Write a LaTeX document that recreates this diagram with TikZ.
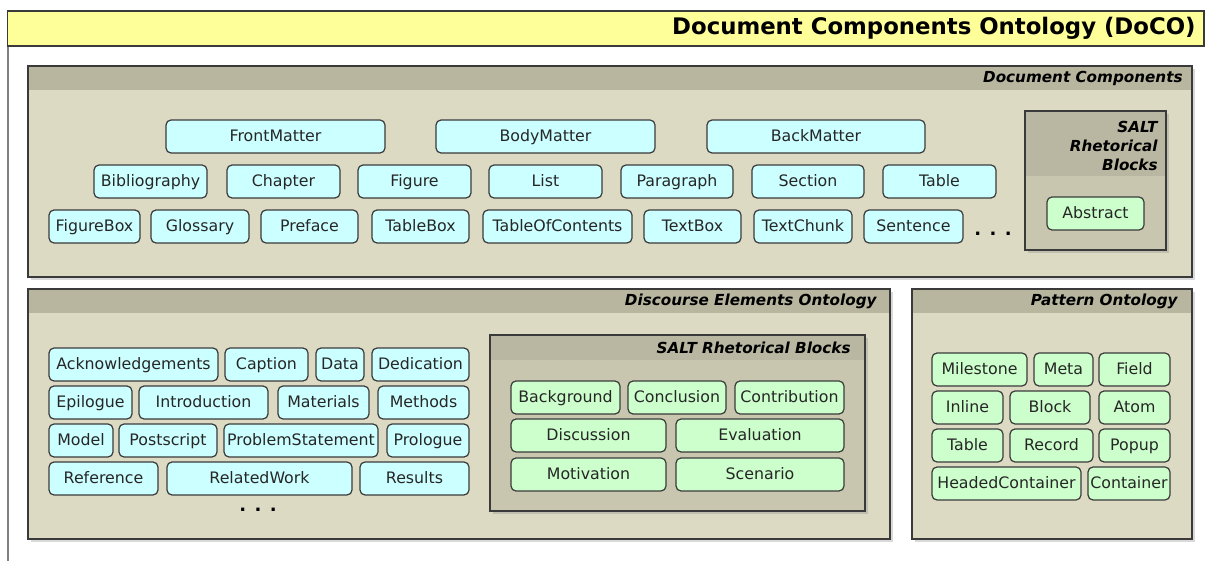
\documentclass[tikz,border=0pt]{standalone}
\usepackage{fontspec}
\setmainfont{DejaVu Sans}[ItalicFont={DejaVu Sans Oblique},BoldFont={DejaVu Sans Bold},BoldItalicFont={DejaVu Sans Bold Oblique}]
\usetikzlibrary{shadows}

\definecolor{titleyellow}{HTML}{FFFF99}
\definecolor{panelbody}{HTML}{DDDAC4}
\definecolor{panelhead}{HTML}{B8B69F}
\definecolor{saltbody}{HTML}{C9C6B0}
\definecolor{salthead}{HTML}{B9B7A1}
\definecolor{doccyan}{HTML}{CCFFFF}
\definecolor{saltgreen}{HTML}{CCFFCC}
\definecolor{boxline}{HTML}{3A3A3A}

\newcommand\boxfont{\fontsize{7.9}{9.5}\selectfont}
\newcommand\headfont{\fontsize{7.6}{9.6}\selectfont\bfseries\itshape}

% class box from pixel corners: style, name, x1, x2, y1, y2, text
\newcommand\clsbox[7]{%
	\pgfmathsetmacro\cx{(#3+#4)/2}\pgfmathsetmacro\cy{(#5+#6)/2}%
	\pgfmathsetmacro\cw{(#4-#3)*0.5}\pgfmathsetmacro\ch{(#6-#5)*0.5}%
	\node[#1, minimum width=\cw pt, minimum height=\ch pt] (#2) at (\cx,\cy) {#7};}

\tikzset{
	cls/.style={draw=boxline, line width=0.6pt, rounded corners=2.5pt, inner sep=0pt, font=\boxfont, text=black!85, text height=0.74em, text depth=0.2em},
	doco/.style={cls, fill=doccyan},
	salt/.style={cls, fill=saltgreen},
	panel/.style={fill=panelbody, drop shadow={shadow xshift=1.3pt, shadow yshift=-1.6pt, opacity=.3}},
	inpanel/.style={fill=saltbody, drop shadow={shadow xshift=1.3pt, shadow yshift=-1.6pt, opacity=.3}},
	panelline/.style={draw=boxline, line width=0.7pt},
	headtext/.style={font=\headfont, inner sep=0pt, anchor=east},
	moredots/.style={font=\fontsize{9}{9}\selectfont\bfseries, inner sep=0pt}
}

\begin{document}
\begin{tikzpicture}[x=0.5pt, y=-0.5pt]
	\useasboundingbox (0,0) rectangle (1206,561);

	% outer frame and title
	\draw[black!50, line width=0.6pt] (8,46) -- (8,561);
	\draw[fill=titleyellow, draw=boxline, line width=0.8pt] (7.5,11) rectangle (1204,46);
	\node[font=\fontsize{11.4}{13}\selectfont\bfseries, anchor=east, inner sep=0pt] (title) at (1196,28.5) {Document Components Ontology (DoCO)};

	% Document Components
	\path[panel] (28,66) rectangle (1192,277);
	\fill[panelhead] (28,66) rectangle (1192,90);
	\draw[panelline] (28,66) rectangle (1192,277);
	\node[headtext] (dchead) at (1183,78.5) {Document Components};

	\clsbox{doco}{frontmatter}{166}{385}{120}{153}{FrontMatter}
	\clsbox{doco}{bodymatter}{436}{655}{120}{153}{BodyMatter}
	\clsbox{doco}{backmatter}{707}{925}{120}{153}{BackMatter}

	\clsbox{doco}{bibliography}{94}{207}{165}{198}{Bibliography}
	\clsbox{doco}{chapter}{227}{340}{165}{198}{Chapter}
	\clsbox{doco}{figure}{358}{471}{165}{198}{Figure}
	\clsbox{doco}{list}{489}{602}{165}{198}{List}
	\clsbox{doco}{paragraph}{621}{733}{165}{198}{Paragraph}
	\clsbox{doco}{section}{752}{864}{165}{198}{Section}
	\clsbox{doco}{table}{883}{996}{165}{198}{Table}

	\clsbox{doco}{figurebox}{49}{140}{210}{243}{FigureBox}
	\clsbox{doco}{glossary}{151}{249}{210}{243}{Glossary}
	\clsbox{doco}{preface}{261}{358}{210}{243}{Preface}
	\clsbox{doco}{tablebox}{372}{469}{210}{243}{TableBox}
	\clsbox{doco}{tableofcontents}{483}{632}{210}{243}{TableOfContents}
	\clsbox{doco}{textbox}{644}{741}{210}{243}{TextBox}
	\clsbox{doco}{textchunk}{754}{852}{210}{243}{TextChunk}
	\clsbox{doco}{sentence}{864}{963}{210}{243}{Sentence}
	\node[moredots] (dcmore) at (993,234) {. . .};

	% SALT blocks inside Document Components
	\path[inpanel] (1025,111) rectangle (1166,250);
	\fill[salthead] (1025,111) rectangle (1166,176);
	\draw[panelline] (1025,111) rectangle (1166,250);
	\node[headtext, align=right] (salthead1) at (1158,146) {SALT\\Rhetorical\\Blocks};
	\clsbox{salt}{abstract}{1047}{1144}{197}{230}{Abstract}

	% Discourse Elements Ontology
	\path[panel] (28,289) rectangle (890,539);
	\fill[panelhead] (28,289) rectangle (890,313);
	\draw[panelline] (28,289) rectangle (890,539);
	\node[headtext] (dehead) at (877,301.5) {Discourse Elements Ontology};

	\clsbox{doco}{acknowledgements}{49}{218}{348}{381}{Acknowledgements}
	\clsbox{doco}{caption}{225}{308}{348}{381}{Caption}
	\clsbox{doco}{data}{316}{364}{348}{381}{Data}
	\clsbox{doco}{dedication}{372}{469}{348}{381}{Dedication}

	\clsbox{doco}{epilogue}{49}{132}{386}{419}{Epilogue}
	\clsbox{doco}{introduction}{139}{268}{386}{419}{Introduction}
	\clsbox{doco}{materials}{278}{369}{386}{419}{Materials}
	\clsbox{doco}{methods}{378}{469}{386}{419}{Methods}

	\clsbox{doco}{model}{49}{113}{424}{457}{Model}
	\clsbox{doco}{postscript}{119}{217}{424}{457}{Postscript}
	\clsbox{doco}{problemstatement}{224}{378}{424}{457}{ProblemStatement}
	\clsbox{doco}{prologue}{387}{469}{424}{457}{Prologue}

	\clsbox{doco}{reference}{49}{158}{462}{495}{Reference}
	\clsbox{doco}{relatedwork}{167}{352}{462}{495}{RelatedWork}
	\clsbox{doco}{results}{360}{469}{462}{495}{Results}
	\node[moredots] (demore) at (258,510) {. . .};

	% SALT blocks inside Discourse Elements
	\path[inpanel] (490,335) rectangle (865,511);
	\fill[salthead] (490,335) rectangle (865,360);
	\draw[panelline] (490,335) rectangle (865,511);
	\node[headtext] (salthead2) at (851,347.5) {SALT Rhetorical Blocks};

	\clsbox{salt}{background}{511}{620}{381}{414}{Background}
	\clsbox{salt}{conclusion}{628}{726}{381}{414}{Conclusion}
	\clsbox{salt}{contribution}{735}{844}{381}{414}{Contribution}
	\clsbox{salt}{discussion}{511}{666}{419}{452}{Discussion}
	\clsbox{salt}{evaluation}{676}{844}{419}{452}{Evaluation}
	\clsbox{salt}{motivation}{511}{666}{458}{491}{Motivation}
	\clsbox{salt}{scenario}{676}{844}{458}{491}{Scenario}

	% Pattern Ontology
	\path[panel] (912,289) rectangle (1192,539);
	\fill[panelhead] (912,289) rectangle (1192,313);
	\draw[panelline] (912,289) rectangle (1192,539);
	\node[headtext] (pohead) at (1178,301.5) {Pattern Ontology};

	\clsbox{salt}{milestone}{932}{1027}{353}{386}{Milestone}
	\clsbox{salt}{meta}{1034}{1093}{353}{386}{Meta}
	\clsbox{salt}{field}{1099}{1170}{353}{386}{Field}
	\clsbox{salt}{inline}{932}{1003}{391}{424}{Inline}
	\clsbox{salt}{block}{1010}{1090}{391}{424}{Block}
	\clsbox{salt}{atom}{1099}{1170}{391}{424}{Atom}
	\clsbox{salt}{ptable}{932}{1003}{429}{462}{Table}
	\clsbox{salt}{record}{1010}{1093}{429}{462}{Record}
	\clsbox{salt}{popup}{1099}{1170}{429}{462}{Popup}
	\clsbox{salt}{headedcontainer}{932}{1081}{467}{500}{HeadedContainer}
	\clsbox{salt}{container}{1088}{1170}{467}{500}{Container}
\end{tikzpicture}
\end{document}
